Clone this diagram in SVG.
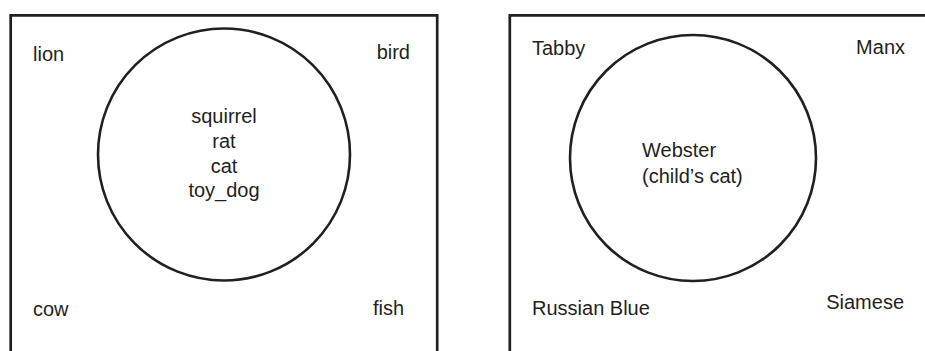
<svg xmlns="http://www.w3.org/2000/svg" width="925" height="351" viewBox="0 0 925 351">
<style>
.frame{fill:none;stroke:#231f20;stroke-width:2.7}
.set{fill:none;stroke:#231f20;stroke-width:2.6}
text{font-family:"Liberation Sans",Arial,sans-serif;font-size:20px;fill:#231f20}
.c{text-anchor:middle}
.e{text-anchor:end}
</style>
<rect width="925" height="351" fill="#ffffff"/>
<g id="left-universe">
<path class="frame" d="M10.7 360 V15.3 H437.2 V360"/>
<text x="33" y="61">lion</text>
<text class="e" x="410" y="59">bird</text>
<text x="33" y="316">cow</text>
<text class="e" x="404" y="315">fish</text>
</g>
<g id="left-set">
<circle class="set" cx="224" cy="154.5" r="126"/>
<text class="c" x="224" y="122.5">squirrel</text>
<text class="c" x="224" y="147.5">rat</text>
<text class="c" x="224" y="172.5">cat</text>
<text class="c" x="224" y="196.5">toy_dog</text>
</g>
<g id="right-universe">
<path class="frame" d="M509.8 360 V15.3 H930"/>
<text x="532" y="55">Tabby</text>
<text class="e" x="905" y="54">Manx</text>
<text x="532" y="315">Russian Blue</text>
<text class="e" x="904" y="309">Siamese</text>
</g>
<g id="right-set">
<circle class="set" cx="693" cy="158" r="123"/>
<text x="642" y="157">Webster</text>
<text x="642" y="183">(child’s cat)</text>
</g>
</svg>
